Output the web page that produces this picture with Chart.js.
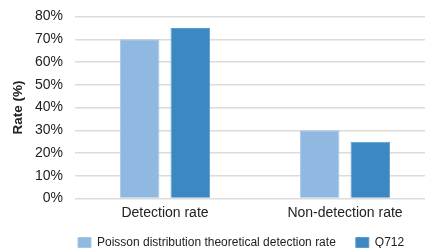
<!DOCTYPE html>
<html>
<head>
<meta charset="utf-8">
<script src="https://cdn.jsdelivr.net/npm/chart.js@4/dist/chart.umd.min.js"></script>
<style>
html,body{margin:0;padding:0;background:#fff;overflow:hidden;width:425px;height:248px;}
#wrap{width:435px;height:263px;}
</style>
</head>
<body>
<div id="wrap"><canvas id="c" width="435" height="263"></canvas></div>
<script>
const categories = ["Detection rate", "Non-detection rate"];
const seriesNames = ["Poisson distribution theoretical detection rate", "Q712"];
const poissonValues = [70, 30];
const q712Values = [75, 25];
const yTicks = [0, 10, 20, 30, 40, 50, 60, 70, 80];

const FONT = "'Liberation Sans', Arial, sans-serif";
const legendShift = {
  id: 'legendShift',
  afterLayout(chart) {
    const lg = chart.legend;
    const w = lg.right - lg.left;
    const h = lg.bottom - lg.top;
    lg.left = 58;
    lg.right = 58 + w;
    lg.top = 216.5;
    lg.bottom = 216.5 + h;
  }
};
new Chart(document.getElementById('c'), {
  type: 'bar',
  data: {
    labels: categories,
    datasets: [
      { label: seriesNames[0], data: poissonValues, backgroundColor: '#8fb9e1', borderColor: '#a6c8e9', borderWidth: 1 },
      { label: seriesNames[1], data: q712Values, backgroundColor: '#3c88c2', borderColor: '#5a9bcf', borderWidth: 1 }
    ]
  },
  plugins: [legendShift],
  options: {
    responsive: false,
    animation: false,
    devicePixelRatio: 1,
    layout: { padding: { top: 0, left: 6, right: 0, bottom: 0 } },
    datasets: { bar: { categoryPercentage: 0.563, barPercentage: 0.782 } },
    plugins: {
      tooltip: { enabled: false },
      legend: {
        position: 'bottom',
        align: 'start',
        labels: {
          font: { family: FONT, size: 12 },
          color: '#222',
          boxWidth: 13,
          boxHeight: 10,
          padding: 20
        }
      }
    },
    scales: {
      x: {
        grid: { display: false, drawTicks: false },
        border: { display: false },
        ticks: { font: { family: FONT, size: 14 }, color: '#222', padding: 6 },
        afterFit: (axis) => { axis.height = 22.5; axis.paddingLeft = 0; axis.paddingRight = 0; }
      },
      y: {
        min: 0, max: 80,
        afterBuildTicks: (axis) => { axis.ticks = yTicks.map(v => ({ value: v })); },
        afterFit: (axis) => { axis.width = 69; axis.paddingTop = 16.5; axis.paddingBottom = 0; },
        grid: { color: '#dcdcdc', lineWidth: 1.5, drawTicks: false },
        border: { display: false },
        ticks: { autoSkip: false, font: { family: FONT, size: 14 }, color: '#222', padding: 12, callback: v => v + '%' },
        title: { display: true, text: 'Rate (%)', font: { family: FONT, size: 13.5, weight: 'bold' }, color: '#222', padding: { top: 4, bottom: 9 } }
      }
    }
  }
});
</script>
</body>
</html>
